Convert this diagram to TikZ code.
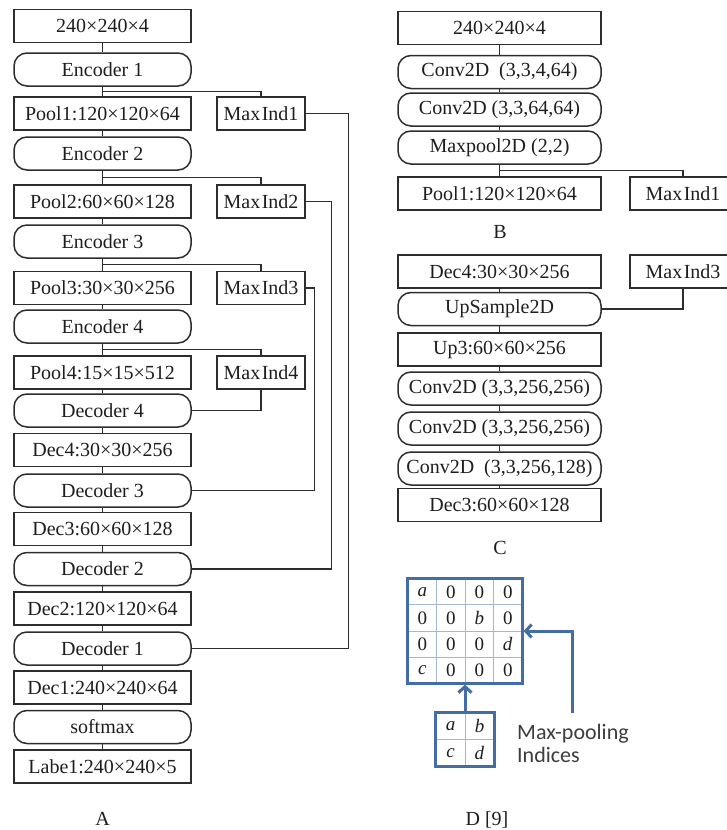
\documentclass[tikz,border=0pt]{standalone}
\usepackage{fontspec}
\setmainfont{Liberation Serif}
\newfontfamily\calib{Carlito}
\usetikzlibrary{arrows.meta,calc}
\definecolor{ln}{RGB}{45,45,45}
\definecolor{gb}{RGB}{68,108,165}
\definecolor{gl}{RGB}{165,182,208}
\definecolor{tx}{RGB}{30,30,30}
\definecolor{dg}{RGB}{60,60,60}
\begin{document}
\begin{tikzpicture}[x=1pt,y=-1pt,
  sq/.style={draw=ln,line width=1.5pt,rectangle,inner sep=0pt,minimum height=33pt,text=tx,font=\fontsize{20}{22}\selectfont},
  rd/.style={sq,rounded corners=13pt},
  colA/.style={minimum width=177pt},
  colB/.style={minimum width=203pt},
  mi/.style={minimum width=88pt},
  mib/.style={minimum width=106pt},
  link/.style={draw=ln,line width=1.4pt},
  lbl/.style={font=\fontsize{20}{22}\selectfont,text=tx,inner sep=0pt},
  cell/.style={font=\fontsize{19}{21}\selectfont,text=tx,inner sep=0pt},
  barrow/.style={draw=gb,line width=3pt,-{Straight Barb[length=6pt,width=13pt]}},
  grid/.style={draw=gb,line width=2.8pt,inner sep=0pt},
  thin/.style={draw=gl,line width=0.9pt},
  note/.style={font=\calib\fontsize{22}{26}\selectfont,text=dg,inner sep=0pt,anchor=base west}]
\useasboundingbox (0,0) rectangle (727,830);
\clip (0,0) rectangle (727,830);

% ---------- A ----------
\node[sq,colA] (a0) at (102.5,26) {240×240×4};
\node[rd,colA] (e1) at (102.5,69.5) {Encoder 1};
\node[sq,colA] (p1) at (102.5,113.5) {Pool1:120×120×64};
\node[rd,colA] (e2) at (102.5,153.5) {Encoder 2};
\node[sq,colA] (p2) at (102.5,201.5) {Pool2:60×60×128};
\node[rd,colA] (e3) at (102.5,241.5) {Encoder 3};
\node[sq,colA] (p3) at (102.5,288) {Pool3:30×30×256};
\node[rd,colA] (e4) at (102.5,326.5) {Encoder 4};
\node[sq,colA] (p4) at (102.5,372.5) {Pool4:15×15×512};
\node[rd,colA] (d4) at (102.5,410.5) {Decoder 4};
\node[sq,colA] (o4) at (102.5,450) {Dec4:30×30×256};
\node[rd,colA] (d3) at (102.5,490.5) {Decoder 3};
\node[sq,colA] (o3) at (102.5,529) {Dec3:60×60×128};
\node[rd,colA] (d2) at (102.5,569) {Decoder 2};
\node[sq,colA] (o2) at (102.5,608.5) {Dec2:120×120×64};
\node[rd,colA] (d1) at (102.5,648.5) {Decoder 1};
\node[sq,colA] (o1) at (102.5,687.5) {Dec1:240×240×64};
\node[rd,colA] (sm) at (102.5,727) {softmax};
\node[sq,colA] (lb) at (102.5,766.5) {Labe1:240×240×5};

\node[sq,mi] (m1) at (261,113.5) {Max\kern1.5pt Ind1};
\node[sq,mi] (m2) at (261,201.5) {Max\kern1.5pt Ind2};
\node[sq,mi] (m3) at (261,288) {Max\kern1.5pt Ind3};
\node[sq,mi] (m4) at (261,372.5) {Max\kern1.5pt Ind4};

\foreach \u/\v in {a0/e1,e1/p1,p1/e2,e2/p2,p2/e3,e3/p3,p3/e4,e4/p4,p4/d4,d4/o4,o4/d3,d3/o3,o3/d2,d2/o2,o2/d1,d1/o1,o1/sm,sm/lb}
  \draw[link] (\u.south) -- (\v.north);

\foreach \e/\p/\m in {e1/p1/m1,e2/p2/m2,e3/p3/m3,e4/p4/m4}{
  \coordinate (j\m) at ($(\e.south)!0.5!(\p.north)$);
  \draw[link] (j\m) -| (\m.north);
}
\draw[link] (m1.east) -- ++(43,0) |- (d1.east);
\draw[link] (m2.east) -- ++(26,0) |- (d2.east);
\draw[link] (m3.east) -- ++(9,0) |- (d3.east);
\draw[link] (m4.south) |- (d4.east);

\node[lbl] (lA) at (102.5,819) {A};

% ---------- B ----------
\node[sq,colB] (b0) at (499.5,28) {240×240×4};
\node[rd,colB] (b1) at (499.5,72) {Conv2D~ (3,3,4,64)};
\node[rd,colB] (b2) at (499.5,109.5) {Conv2D (3,3,64,64)};
\node[rd,colB] (b3) at (499.5,147.5) {Maxpool2D (2,2)};
\node[sq,colB] (b4) at (499.5,193.5) {Pool1:120×120×64};
\node[sq,mib] (bm) at (683,193.5) {Max\kern1.5pt Ind1};
\foreach \u/\v in {b0/b1,b1/b2,b2/b3,b3/b4}
  \draw[link] (\u.south) -- (\v.north);
\coordinate (jb) at ($(b3.south)!0.5!(b4.north)$);
\draw[link] (jb) -| (bm.north);
\node[lbl] (lB) at (500,232) {B};

% ---------- C ----------
\node[sq,colB] (c0) at (499.5,271.5) {Dec4:30×30×256};
\node[sq,mib] (cm) at (683,271.5) {Max\kern1.5pt Ind3};
\node[rd,colB] (c1) at (499.5,309) {UpSample2D};
\node[sq,colB] (c2) at (499.5,349.5) {Up3:60×60×256};
\node[rd,colB] (c3) at (499.5,388.5) {Conv2D (3,3,256,256)};
\node[rd,colB] (c4) at (499.5,428.5) {Conv2D (3,3,256,256)};
\node[rd,colB] (c5) at (499.5,468.5) {Conv2D~ (3,3,256,128)};
\node[sq,colB] (c6) at (499.5,505) {Dec3:60×60×128};
\foreach \u/\v in {c0/c1,c1/c2,c2/c3,c3/c4,c4/c5,c5/c6}
  \draw[link] (\u.south) -- (\v.north);
\draw[link] (cm.south) |- (c1.east);
\node[lbl] (lC) at (500,548) {C};

% ---------- D ----------
\node[inner sep=0pt,minimum width=114pt,minimum height=104pt] (big) at (465,631) {};
\foreach \i in {1,2,3}{
  \draw[thin] ($(big.north west)!\i/4!(big.north east)$) -- ($(big.south west)!\i/4!(big.south east)$);
  \draw[thin] ($(big.north west)!\i/4!(big.south west)$) -- ($(big.north east)!\i/4!(big.south east)$);
}
\draw[grid] (big.north west) rectangle (big.south east);
\foreach \r/\row in {0/{a,0,0,0},1/{0,0,b,0},2/{0,0,0,d},3/{c,0,0,0}}{
  \foreach \v [count=\k from 0] in \row {
    \node[cell] (g\r\k) at (422.25+28.5*\k,592+26*\r) {\if\v0 0\else\textit{\v}\fi};
  }
}
\node[inner sep=0pt,minimum width=58pt,minimum height=53pt] (small) at (465,739.5) {};
\draw[thin] (small.north) -- (small.south);
\draw[thin] (small.west) -- (small.east);
\draw[grid] (small.north west) rectangle (small.south east);
\node[cell] (s00) at (450.5,726.25) {\textit{a}};
\node[cell] (s01) at (479.5,726.25) {\textit{b}};
\node[cell] (s10) at (450.5,752.75) {\textit{c}};
\node[cell] (s11) at (479.5,752.75) {\textit{d}};

\draw[barrow,shorten <=1.4pt,shorten >=1.4pt] (small.north) -- (big.south);
\coordinate (mp) at (572,713);
\draw[barrow,shorten >=1.4pt] (mp) |- (big.east);

\node[note] (t1) at (517,739) {Max-pooling};
\node[note] (t2) at (517,762) {Indices};
\node[lbl] (lD) at (487,820) {D [9]};
\end{tikzpicture}
\end{document}
